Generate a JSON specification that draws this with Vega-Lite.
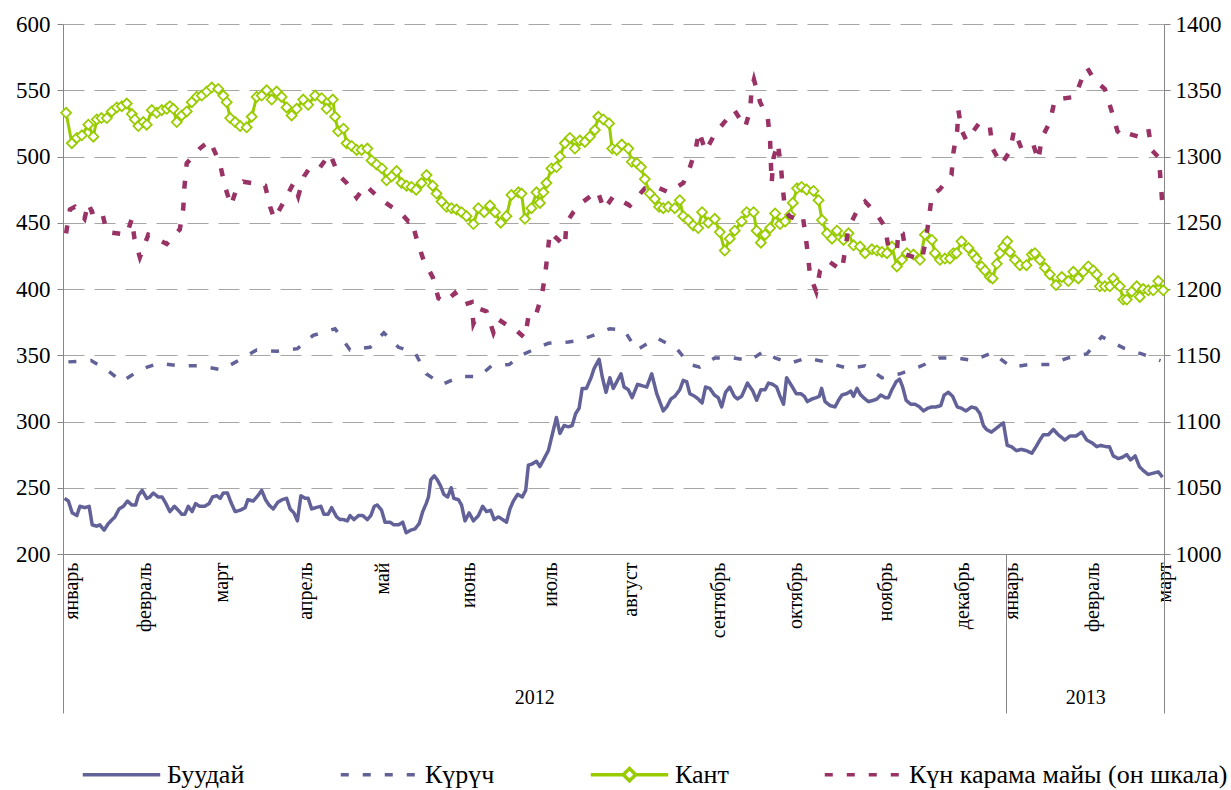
{
"$schema": "https://vega.github.io/schema/vega-lite/v6.json",
"width": 1101, "height": 530,
"autosize": {"type": "none"},
"padding": {"left": 63, "top": 24, "right": 67, "bottom": 236},
"background": "white",
"config": {"view": {"stroke": null}, "font": "Liberation Serif",
  "axis": {"labelFont": "Liberation Serif", "labelColor": "black", "labelFontSize": 20, "domainColor": "#868686", "tickColor": "#868686", "title": null},
  "legend": {"labelFont": "Liberation Serif", "labelFontSize": 26, "labelColor": "black", "labelLimit": 0}},
"datasets": {"d": [
{"s":"a","t":0.4,"v":242},{"s":"a","t":1.4,"v":240},{"s":"a","t":2.4,"v":231},{"s":"a","t":3.6,"v":229},{"s":"a","t":4.4,"v":236},{"s":"a","t":5.7,"v":235},{"s":"a","t":6.8,"v":236},{"s":"a","t":7.6,"v":222},{"s":"a","t":8.8,"v":221},{"s":"a","t":9.6,"v":222},{"s":"a","t":10.7,"v":218},{"s":"a","t":11.8,"v":223},{"s":"a","t":13.5,"v":228},{"s":"a","t":14.6,"v":234},{"s":"a","t":15.7,"v":236},{"s":"a","t":16.8,"v":240},{"s":"a","t":17.9,"v":237},{"s":"a","t":18.9,"v":237},{"s":"a","t":19.6,"v":244},{"s":"a","t":20.6,"v":248},{"s":"a","t":21.8,"v":242},{"s":"a","t":22.6,"v":243},{"s":"a","t":23.5,"v":246},{"s":"a","t":24.8,"v":243},{"s":"a","t":25.8,"v":243},{"s":"a","t":26.8,"v":238},{"s":"a","t":27.8,"v":232},{"s":"a","t":29,"v":236},{"s":"a","t":30,"v":233},{"s":"a","t":30.9,"v":230},{"s":"a","t":31.7,"v":230},{"s":"a","t":32.6,"v":236},{"s":"a","t":33.6,"v":232},{"s":"a","t":34.5,"v":238},{"s":"a","t":35.6,"v":236},{"s":"a","t":36.9,"v":236},{"s":"a","t":38,"v":238},{"s":"a","t":38.9,"v":243},{"s":"a","t":40,"v":244},{"s":"a","t":40.9,"v":242},{"s":"a","t":41.7,"v":246},{"s":"a","t":42.8,"v":246},{"s":"a","t":43.7,"v":239},{"s":"a","t":44.8,"v":232},{"s":"a","t":46.1,"v":233},{"s":"a","t":47.4,"v":235},{"s":"a","t":48.1,"v":241},{"s":"a","t":49.5,"v":240},{"s":"a","t":50.7,"v":244},{"s":"a","t":51.7,"v":248},{"s":"a","t":52.7,"v":241},{"s":"a","t":53.6,"v":237},{"s":"a","t":54.7,"v":234},{"s":"a","t":55.9,"v":239},{"s":"a","t":57,"v":241},{"s":"a","t":58.2,"v":242},{"s":"a","t":59.1,"v":234},{"s":"a","t":60.1,"v":231},{"s":"a","t":61,"v":225},{"s":"a","t":61.9,"v":244},{"s":"a","t":63,"v":242},{"s":"a","t":63.8,"v":242},{"s":"a","t":64.7,"v":234},{"s":"a","t":65.8,"v":235},{"s":"a","t":67.1,"v":236},{"s":"a","t":67.9,"v":230},{"s":"a","t":69,"v":230},{"s":"a","t":69.9,"v":235},{"s":"a","t":71.2,"v":228},{"s":"a","t":72.1,"v":226},{"s":"a","t":72.9,"v":226},{"s":"a","t":74,"v":225},{"s":"a","t":74.7,"v":229},{"s":"a","t":75.7,"v":226},{"s":"a","t":76.9,"v":229},{"s":"a","t":78,"v":229},{"s":"a","t":79.2,"v":226},{"s":"a","t":80.1,"v":229},{"s":"a","t":81,"v":236},{"s":"a","t":81.8,"v":237},{"s":"a","t":82.9,"v":233},{"s":"a","t":83.8,"v":224},{"s":"a","t":85.1,"v":224},{"s":"a","t":86.1,"v":222},{"s":"a","t":87.3,"v":222},{"s":"a","t":88.4,"v":224},{"s":"a","t":89.3,"v":216},{"s":"a","t":90.5,"v":218},{"s":"a","t":91.6,"v":219},{"s":"a","t":92.7,"v":223},{"s":"a","t":93.6,"v":232},{"s":"a","t":94.5,"v":238},{"s":"a","t":95.1,"v":243},{"s":"a","t":95.7,"v":256},{"s":"a","t":96.6,"v":259},{"s":"a","t":97.4,"v":256},{"s":"a","t":98.3,"v":251},{"s":"a","t":99.1,"v":245},{"s":"a","t":100.1,"v":243},{"s":"a","t":101,"v":250},{"s":"a","t":101.7,"v":242},{"s":"a","t":102.9,"v":241},{"s":"a","t":103.7,"v":237},{"s":"a","t":104.6,"v":225},{"s":"a","t":105.7,"v":231},{"s":"a","t":106.8,"v":225},{"s":"a","t":108.1,"v":229},{"s":"a","t":109.2,"v":236},{"s":"a","t":110.2,"v":232},{"s":"a","t":111.3,"v":233},{"s":"a","t":112.2,"v":226},{"s":"a","t":113.3,"v":228},{"s":"a","t":114.4,"v":226},{"s":"a","t":115.4,"v":224},{"s":"a","t":116.3,"v":234},{"s":"a","t":117.2,"v":240},{"s":"a","t":118.3,"v":245},{"s":"a","t":119.5,"v":243},{"s":"a","t":120.4,"v":248},{"s":"a","t":121.1,"v":267},{"s":"a","t":122.1,"v":268},{"s":"a","t":123.2,"v":270},{"s":"a","t":124.1,"v":266},{"s":"a","t":125.2,"v":272},{"s":"a","t":126.3,"v":278},{"s":"a","t":127.3,"v":290},{"s":"a","t":128.4,"v":303},{"s":"a","t":129.3,"v":291},{"s":"a","t":130.4,"v":297},{"s":"a","t":131.5,"v":296},{"s":"a","t":132.5,"v":297},{"s":"a","t":133.4,"v":306},{"s":"a","t":134.3,"v":310},{"s":"a","t":135.1,"v":325},{"s":"a","t":136.2,"v":325},{"s":"a","t":137.4,"v":333},{"s":"a","t":138.2,"v":340},{"s":"a","t":139.5,"v":347},{"s":"a","t":140.3,"v":334},{"s":"a","t":141.3,"v":322},{"s":"a","t":142.3,"v":333},{"s":"a","t":143.2,"v":325},{"s":"a","t":144.3,"v":331},{"s":"a","t":145.2,"v":336},{"s":"a","t":146,"v":326},{"s":"a","t":147.1,"v":324},{"s":"a","t":148.1,"v":318},{"s":"a","t":149.5,"v":328},{"s":"a","t":150.7,"v":327},{"s":"a","t":151.9,"v":326},{"s":"a","t":153.2,"v":336},{"s":"a","t":154.5,"v":321},{"s":"a","t":156.2,"v":308},{"s":"a","t":157.1,"v":311},{"s":"a","t":158.2,"v":317},{"s":"a","t":159.2,"v":319},{"s":"a","t":160.5,"v":324},{"s":"a","t":161.4,"v":331},{"s":"a","t":162.3,"v":330},{"s":"a","t":163.1,"v":321},{"s":"a","t":164.4,"v":319},{"s":"a","t":165.3,"v":317},{"s":"a","t":166.3,"v":314},{"s":"a","t":167.2,"v":326},{"s":"a","t":168.3,"v":325},{"s":"a","t":169.5,"v":320},{"s":"a","t":170.5,"v":318},{"s":"a","t":171.4,"v":311},{"s":"a","t":172.4,"v":322},{"s":"a","t":173.5,"v":326},{"s":"a","t":174.7,"v":319},{"s":"a","t":175.5,"v":317},{"s":"a","t":176.6,"v":319},{"s":"a","t":178.1,"v":329},{"s":"a","t":179.5,"v":323},{"s":"a","t":180.5,"v":316},{"s":"a","t":181.6,"v":324},{"s":"a","t":182.7,"v":324},{"s":"a","t":183.6,"v":329},{"s":"a","t":184.7,"v":328},{"s":"a","t":185.7,"v":326},{"s":"a","t":186.6,"v":319},{"s":"a","t":187.5,"v":313},{"s":"a","t":188.3,"v":333},{"s":"a","t":189.6,"v":327},{"s":"a","t":190.8,"v":321},{"s":"a","t":192,"v":321},{"s":"a","t":192.9,"v":319},{"s":"a","t":193.7,"v":315},{"s":"a","t":194.9,"v":317},{"s":"a","t":196,"v":318},{"s":"a","t":196.8,"v":319},{"s":"a","t":197.4,"v":325},{"s":"a","t":198.3,"v":315},{"s":"a","t":199.6,"v":312},{"s":"a","t":200.9,"v":311},{"s":"a","t":201.8,"v":316},{"s":"a","t":202.7,"v":320},{"s":"a","t":203.9,"v":321},{"s":"a","t":205,"v":323},{"s":"a","t":205.7,"v":319},{"s":"a","t":206.6,"v":325},{"s":"a","t":207.6,"v":320},{"s":"a","t":208.7,"v":317},{"s":"a","t":209.6,"v":315},{"s":"a","t":210.9,"v":316},{"s":"a","t":211.8,"v":317},{"s":"a","t":212.8,"v":320},{"s":"a","t":214,"v":318},{"s":"a","t":214.8,"v":318},{"s":"a","t":215.7,"v":324},{"s":"a","t":216.8,"v":330},{"s":"a","t":217.7,"v":332},{"s":"a","t":218.5,"v":326},{"s":"a","t":219.4,"v":316},{"s":"a","t":220.6,"v":313},{"s":"a","t":221.7,"v":313},{"s":"a","t":222.9,"v":311},{"s":"a","t":223.9,"v":308},{"s":"a","t":225,"v":310},{"s":"a","t":226.1,"v":311},{"s":"a","t":227.2,"v":311},{"s":"a","t":228.4,"v":312},{"s":"a","t":229.3,"v":320},{"s":"a","t":230.4,"v":322},{"s":"a","t":231.5,"v":319},{"s":"a","t":232.7,"v":311},{"s":"a","t":233.8,"v":310},{"s":"a","t":235,"v":308},{"s":"a","t":236.4,"v":311},{"s":"a","t":237.6,"v":310},{"s":"a","t":238.6,"v":306},{"s":"a","t":239.5,"v":297},{"s":"a","t":240.3,"v":294},{"s":"a","t":241.6,"v":292},{"s":"a","t":242.9,"v":295},{"s":"a","t":244.7,"v":299},{"s":"a","t":245.7,"v":282},{"s":"a","t":246.8,"v":281},{"s":"a","t":248.1,"v":278},{"s":"a","t":249.4,"v":279},{"s":"a","t":250.7,"v":278},{"s":"a","t":252.1,"v":276},{"s":"a","t":253.2,"v":281},{"s":"a","t":254.2,"v":286},{"s":"a","t":255.1,"v":290},{"s":"a","t":256.4,"v":290},{"s":"a","t":257.7,"v":294},{"s":"a","t":259,"v":290},{"s":"a","t":260.7,"v":286},{"s":"a","t":262,"v":289},{"s":"a","t":263.6,"v":289},{"s":"a","t":265.1,"v":292},{"s":"a","t":266.4,"v":286},{"s":"a","t":267.7,"v":284},{"s":"a","t":269,"v":281},{"s":"a","t":270,"v":282},{"s":"a","t":271.4,"v":281},{"s":"a","t":272.3,"v":281},{"s":"a","t":273.3,"v":274},{"s":"a","t":274.6,"v":272},{"s":"a","t":275.7,"v":273},{"s":"a","t":276.8,"v":275},{"s":"a","t":277.8,"v":271},{"s":"a","t":279,"v":274},{"s":"a","t":280.1,"v":266},{"s":"a","t":281.1,"v":263},{"s":"a","t":282.4,"v":260},{"s":"a","t":283.7,"v":261},{"s":"a","t":285,"v":262},{"s":"a","t":286.1,"v":258},
{"s":"b","t":1.4,"v":345},{"s":"b","t":7.3,"v":346},{"s":"b","t":11.4,"v":339},{"s":"b","t":15.3,"v":330},{"s":"b","t":20,"v":339},{"s":"b","t":24.8,"v":344},{"s":"b","t":30.2,"v":342},{"s":"b","t":35.9,"v":342},{"s":"b","t":41.3,"v":339},{"s":"b","t":45.6,"v":346},{"s":"b","t":50.4,"v":354},{"s":"b","t":55.6,"v":353},{"s":"b","t":61,"v":355},{"s":"b","t":65.1,"v":365},{"s":"b","t":70.8,"v":370},{"s":"b","t":74.7,"v":354},{"s":"b","t":79.9,"v":356},{"s":"b","t":83.5,"v":367},{"s":"b","t":87.3,"v":356},{"s":"b","t":91.6,"v":352},{"s":"b","t":94.5,"v":336},{"s":"b","t":98.7,"v":328},{"s":"b","t":103.3,"v":334},{"s":"b","t":108.3,"v":334},{"s":"b","t":111.5,"v":342},{"s":"b","t":116.1,"v":343},{"s":"b","t":119.3,"v":350},{"s":"b","t":123.7,"v":356},{"s":"b","t":126.3,"v":359},{"s":"b","t":131.5,"v":360},{"s":"b","t":134.1,"v":361},{"s":"b","t":138,"v":365},{"s":"b","t":142.3,"v":370},{"s":"b","t":146,"v":369},{"s":"b","t":149.3,"v":354},{"s":"b","t":154.5,"v":363},{"s":"b","t":159.7,"v":355},{"s":"b","t":163.1,"v":343},{"s":"b","t":165.7,"v":341},{"s":"b","t":169.6,"v":348},{"s":"b","t":174.2,"v":348},{"s":"b","t":178.8,"v":346},{"s":"b","t":182.3,"v":353},{"s":"b","t":185.3,"v":348},{"s":"b","t":189.2,"v":344},{"s":"b","t":193.6,"v":348},{"s":"b","t":198.3,"v":345},{"s":"b","t":204.4,"v":340},{"s":"b","t":208.7,"v":342},{"s":"b","t":213.1,"v":333},{"s":"b","t":217.8,"v":336},{"s":"b","t":222.6,"v":341},{"s":"b","t":228.1,"v":348},{"s":"b","t":232.7,"v":348},{"s":"b","t":236.9,"v":346},{"s":"b","t":241.9,"v":352},{"s":"b","t":246.7,"v":341},{"s":"b","t":251.4,"v":343},{"s":"b","t":256.7,"v":343},{"s":"b","t":261.6,"v":348},{"s":"b","t":266.4,"v":351},{"s":"b","t":270.3,"v":364},{"s":"b","t":272.9,"v":360},{"s":"b","t":276.3,"v":355},{"s":"b","t":280.7,"v":351},{"s":"b","t":285.6,"v":346},
{"s":"c","t":0.8,"v":533},{"s":"c","t":2.3,"v":510},{"s":"c","t":3.6,"v":514},{"s":"c","t":4.9,"v":516},{"s":"c","t":6.6,"v":524},{"s":"c","t":7.9,"v":515},{"s":"c","t":8.8,"v":528},{"s":"c","t":10,"v":529},{"s":"c","t":11.4,"v":529},{"s":"c","t":12.7,"v":534},{"s":"c","t":14,"v":537},{"s":"c","t":15.3,"v":538},{"s":"c","t":16.6,"v":540},{"s":"c","t":17.9,"v":532},{"s":"c","t":18.7,"v":528},{"s":"c","t":19.6,"v":523},{"s":"c","t":20.9,"v":526},{"s":"c","t":21.8,"v":524},{"s":"c","t":23.1,"v":535},{"s":"c","t":24.4,"v":533},{"s":"c","t":25.7,"v":535},{"s":"c","t":27,"v":536},{"s":"c","t":27.8,"v":538},{"s":"c","t":28.7,"v":536},{"s":"c","t":29.6,"v":526},{"s":"c","t":30.9,"v":531},{"s":"c","t":32.2,"v":534},{"s":"c","t":33.5,"v":541},{"s":"c","t":34.8,"v":545},{"s":"c","t":36.1,"v":546},{"s":"c","t":37.4,"v":549},{"s":"c","t":38.7,"v":552},{"s":"c","t":40.4,"v":551},{"s":"c","t":41.7,"v":546},{"s":"c","t":42.6,"v":541},{"s":"c","t":43.5,"v":529},{"s":"c","t":44.8,"v":526},{"s":"c","t":46.1,"v":523},{"s":"c","t":47.8,"v":522},{"s":"c","t":49.1,"v":530},{"s":"c","t":50.4,"v":545},{"s":"c","t":51.7,"v":546},{"s":"c","t":53,"v":550},{"s":"c","t":54.3,"v":543},{"s":"c","t":55.6,"v":549},{"s":"c","t":56.9,"v":545},{"s":"c","t":58.2,"v":537},{"s":"c","t":59.5,"v":531},{"s":"c","t":60.8,"v":536},{"s":"c","t":62.5,"v":543},{"s":"c","t":63.8,"v":539},{"s":"c","t":65.6,"v":546},{"s":"c","t":67.3,"v":544},{"s":"c","t":68.6,"v":536},{"s":"c","t":70.2,"v":543},{"s":"c","t":70.8,"v":530},{"s":"c","t":71.6,"v":519},{"s":"c","t":73,"v":521},{"s":"c","t":73.8,"v":510},{"s":"c","t":75.1,"v":508},{"s":"c","t":76.4,"v":505},{"s":"c","t":77.7,"v":505},{"s":"c","t":79.2,"v":506},{"s":"c","t":80.3,"v":497},{"s":"c","t":81.6,"v":494},{"s":"c","t":83,"v":491},{"s":"c","t":84.2,"v":482},{"s":"c","t":85.5,"v":485},{"s":"c","t":86.8,"v":489},{"s":"c","t":88.1,"v":480},{"s":"c","t":89.4,"v":478},{"s":"c","t":90.7,"v":477},{"s":"c","t":91.9,"v":475},{"s":"c","t":93.3,"v":480},{"s":"c","t":94.6,"v":486},{"s":"c","t":96.2,"v":478},{"s":"c","t":97.2,"v":472},{"s":"c","t":98.5,"v":466},{"s":"c","t":99.8,"v":462},{"s":"c","t":101.1,"v":461},{"s":"c","t":102.4,"v":460},{"s":"c","t":103.7,"v":458},{"s":"c","t":105,"v":455},{"s":"c","t":106.8,"v":449},{"s":"c","t":108.1,"v":461},{"s":"c","t":109.6,"v":458},{"s":"c","t":111.1,"v":463},{"s":"c","t":112.4,"v":458},{"s":"c","t":113.9,"v":450},{"s":"c","t":115.4,"v":455},{"s":"c","t":116.7,"v":471},{"s":"c","t":118.5,"v":473},{"s":"c","t":119.3,"v":472},{"s":"c","t":120.2,"v":453},{"s":"c","t":121.9,"v":461},{"s":"c","t":123.2,"v":473},{"s":"c","t":124.1,"v":465},{"s":"c","t":125,"v":473},{"s":"c","t":125.8,"v":480},{"s":"c","t":127.1,"v":491},{"s":"c","t":128.4,"v":492},{"s":"c","t":129.3,"v":500},{"s":"c","t":130.6,"v":510},{"s":"c","t":131.9,"v":514},{"s":"c","t":133.2,"v":506},{"s":"c","t":134.5,"v":512},{"s":"c","t":135.8,"v":511},{"s":"c","t":137.1,"v":515},{"s":"c","t":138.4,"v":520},{"s":"c","t":139.3,"v":530},{"s":"c","t":140.6,"v":528},{"s":"c","t":142.1,"v":525},{"s":"c","t":142.9,"v":506},{"s":"c","t":144.1,"v":505},{"s":"c","t":145.4,"v":509},{"s":"c","t":147.1,"v":506},{"s":"c","t":148,"v":496},{"s":"c","t":149.3,"v":495},{"s":"c","t":150.4,"v":492},{"s":"c","t":151.4,"v":483},{"s":"c","t":152.7,"v":472},{"s":"c","t":154,"v":468},{"s":"c","t":155.1,"v":462},{"s":"c","t":156.2,"v":461},{"s":"c","t":157.5,"v":462},{"s":"c","t":159.2,"v":461},{"s":"c","t":160.5,"v":467},{"s":"c","t":161.4,"v":455},{"s":"c","t":162.7,"v":452},{"s":"c","t":164,"v":448},{"s":"c","t":165.3,"v":446},{"s":"c","t":166.3,"v":458},{"s":"c","t":167.9,"v":450},{"s":"c","t":169.6,"v":453},{"s":"c","t":170.9,"v":443},{"s":"c","t":172.2,"v":429},{"s":"c","t":173.5,"v":438},{"s":"c","t":174.8,"v":444},{"s":"c","t":176.6,"v":451},{"s":"c","t":177.9,"v":458},{"s":"c","t":179.7,"v":458},{"s":"c","t":180.5,"v":444},{"s":"c","t":181.6,"v":435},{"s":"c","t":182.7,"v":441},{"s":"c","t":184,"v":446},{"s":"c","t":185.3,"v":457},{"s":"c","t":186.6,"v":449},{"s":"c","t":187.9,"v":451},{"s":"c","t":189.2,"v":456},{"s":"c","t":189.9,"v":465},{"s":"c","t":191,"v":476},{"s":"c","t":192.2,"v":477},{"s":"c","t":193.5,"v":475},{"s":"c","t":195.3,"v":474},{"s":"c","t":196.6,"v":467},{"s":"c","t":197.5,"v":452},{"s":"c","t":198.8,"v":442},{"s":"c","t":200.1,"v":438},{"s":"c","t":201.4,"v":444},{"s":"c","t":203.1,"v":437},{"s":"c","t":204.4,"v":442},{"s":"c","t":205.7,"v":433},{"s":"c","t":207.4,"v":432},{"s":"c","t":208.7,"v":427},{"s":"c","t":210.5,"v":430},{"s":"c","t":211.8,"v":429},{"s":"c","t":213.1,"v":428},{"s":"c","t":214.4,"v":427},{"s":"c","t":215.7,"v":432},{"s":"c","t":217,"v":417},{"s":"c","t":218.3,"v":422},{"s":"c","t":219.6,"v":427},{"s":"c","t":221.3,"v":426},{"s":"c","t":223,"v":422},{"s":"c","t":224.3,"v":441},{"s":"c","t":226.1,"v":437},{"s":"c","t":226.9,"v":427},{"s":"c","t":228.2,"v":422},{"s":"c","t":229.5,"v":423},{"s":"c","t":230.8,"v":423},{"s":"c","t":231.7,"v":427},{"s":"c","t":232.5,"v":427},{"s":"c","t":233.8,"v":436},{"s":"c","t":235.6,"v":431},{"s":"c","t":236.9,"v":426},{"s":"c","t":237.7,"v":423},{"s":"c","t":239,"v":417},{"s":"c","t":239.9,"v":414},{"s":"c","t":241.2,"v":409},{"s":"c","t":241.9,"v":408},{"s":"c","t":243,"v":419},{"s":"c","t":243.8,"v":427},{"s":"c","t":244.7,"v":432},{"s":"c","t":245.7,"v":436},{"s":"c","t":246.4,"v":428},{"s":"c","t":247.7,"v":422},{"s":"c","t":249,"v":418},{"s":"c","t":250.7,"v":418},{"s":"c","t":252.1,"v":426},{"s":"c","t":252.9,"v":427},{"s":"c","t":254.2,"v":422},{"s":"c","t":255.5,"v":416},{"s":"c","t":256.8,"v":411},{"s":"c","t":258.4,"v":403},{"s":"c","t":259.9,"v":409},{"s":"c","t":261.6,"v":406},{"s":"c","t":262.9,"v":413},{"s":"c","t":264.2,"v":408},{"s":"c","t":265.5,"v":413},{"s":"c","t":266.8,"v":417},{"s":"c","t":268.1,"v":414},{"s":"c","t":269,"v":411},{"s":"c","t":269.8,"v":402},{"s":"c","t":271.1,"v":402},{"s":"c","t":272.4,"v":402},{"s":"c","t":273.3,"v":408},{"s":"c","t":274.2,"v":404},{"s":"c","t":275,"v":402},{"s":"c","t":275.9,"v":392},{"s":"c","t":276.8,"v":392},{"s":"c","t":278.1,"v":398},{"s":"c","t":279.4,"v":402},{"s":"c","t":280.2,"v":394},{"s":"c","t":281.1,"v":400},{"s":"c","t":282.4,"v":399},{"s":"c","t":283.7,"v":399},{"s":"c","t":285,"v":406},{"s":"c","t":286.3,"v":399},
{"s":"d","t":0.8,"v":1242},{"s":"d","t":1.8,"v":1260},{"s":"d","t":3.1,"v":1262},{"s":"d","t":5.6,"v":1253},{"s":"d","t":6.6,"v":1265},{"s":"d","t":7.5,"v":1258},{"s":"d","t":10,"v":1260},{"s":"d","t":11.4,"v":1243},{"s":"d","t":16.6,"v":1241},{"s":"d","t":17.9,"v":1253},{"s":"d","t":18.6,"v":1238},{"s":"d","t":20,"v":1224},{"s":"d","t":22.2,"v":1241},{"s":"d","t":23.1,"v":1240},{"s":"d","t":27,"v":1234},{"s":"d","t":30.4,"v":1245},{"s":"d","t":31.3,"v":1261},{"s":"d","t":31.6,"v":1277},{"s":"d","t":32.2,"v":1295},{"s":"d","t":35.6,"v":1306},{"s":"d","t":38.2,"v":1312},{"s":"d","t":40.8,"v":1295},{"s":"d","t":42.2,"v":1277},{"s":"d","t":43.7,"v":1263},{"s":"d","t":45.2,"v":1276},{"s":"d","t":46.9,"v":1281},{"s":"d","t":49.1,"v":1280},{"s":"d","t":50.7,"v":1280},{"s":"d","t":52.6,"v":1278},{"s":"d","t":53.9,"v":1262},{"s":"d","t":55,"v":1253},{"s":"d","t":57.3,"v":1265},{"s":"d","t":60,"v":1280},{"s":"d","t":61.2,"v":1270},{"s":"d","t":62.7,"v":1285},{"s":"d","t":64.1,"v":1291},{"s":"d","t":66.4,"v":1290},{"s":"d","t":69.5,"v":1302},{"s":"d","t":71.7,"v":1286},{"s":"d","t":73.8,"v":1280},{"s":"d","t":76.4,"v":1269},{"s":"d","t":78.8,"v":1278},{"s":"d","t":82.5,"v":1268},{"s":"d","t":85.5,"v":1262},{"s":"d","t":87.7,"v":1258},{"s":"d","t":89.9,"v":1251},{"s":"d","t":90.7,"v":1252},{"s":"d","t":92.2,"v":1236},{"s":"d","t":93.8,"v":1222},{"s":"d","t":96.2,"v":1209},{"s":"d","t":97.7,"v":1193},{"s":"d","t":99.4,"v":1190},{"s":"d","t":102,"v":1197},{"s":"d","t":104.2,"v":1188},{"s":"d","t":106.3,"v":1190},{"s":"d","t":106.8,"v":1174},{"s":"d","t":108.5,"v":1185},{"s":"d","t":110.2,"v":1183},{"s":"d","t":112,"v":1167},{"s":"d","t":113.3,"v":1177},{"s":"d","t":115.4,"v":1173},{"s":"d","t":116.7,"v":1172},{"s":"d","t":120.2,"v":1163},{"s":"d","t":121.1,"v":1179},{"s":"d","t":122.8,"v":1178},{"s":"d","t":124.5,"v":1194},{"s":"d","t":125.4,"v":1209},{"s":"d","t":126.1,"v":1227},{"s":"d","t":126.7,"v":1243},{"s":"d","t":128.9,"v":1237},{"s":"d","t":130.6,"v":1232},{"s":"d","t":131,"v":1250},{"s":"d","t":132.8,"v":1258},{"s":"d","t":135.4,"v":1266},{"s":"d","t":139.1,"v":1274},{"s":"d","t":140.8,"v":1260},{"s":"d","t":143.2,"v":1270},{"s":"d","t":147.5,"v":1263},{"s":"d","t":151.4,"v":1276},{"s":"d","t":154.5,"v":1277},{"s":"d","t":157.5,"v":1273},{"s":"d","t":161.4,"v":1280},{"s":"d","t":162.7,"v":1288},{"s":"d","t":164.6,"v":1305},{"s":"d","t":165.5,"v":1319},{"s":"d","t":167.2,"v":1304},{"s":"d","t":169.6,"v":1317},{"s":"d","t":172.7,"v":1328},{"s":"d","t":174.7,"v":1335},{"s":"d","t":177.5,"v":1322},{"s":"d","t":178.8,"v":1335},{"s":"d","t":179.2,"v":1351},{"s":"d","t":179.8,"v":1358},{"s":"d","t":181.4,"v":1341},{"s":"d","t":183.4,"v":1329},{"s":"d","t":184,"v":1312},{"s":"d","t":184.4,"v":1280},{"s":"d","t":184.9,"v":1299},{"s":"d","t":186,"v":1310},{"s":"d","t":186.8,"v":1293},{"s":"d","t":187.3,"v":1276},{"s":"d","t":187.9,"v":1260},{"s":"d","t":189,"v":1255},{"s":"d","t":191.4,"v":1252},{"s":"d","t":192.5,"v":1255},{"s":"d","t":193.1,"v":1243},{"s":"d","t":193.8,"v":1227},{"s":"d","t":194.4,"v":1210},{"s":"d","t":196,"v":1198},{"s":"d","t":197,"v":1214},{"s":"d","t":199.2,"v":1221},{"s":"d","t":202.7,"v":1214},{"s":"d","t":203.5,"v":1229},{"s":"d","t":204.4,"v":1246},{"s":"d","t":206.8,"v":1260},{"s":"d","t":208.7,"v":1266},{"s":"d","t":211.6,"v":1257},{"s":"d","t":213.9,"v":1247},{"s":"d","t":214.8,"v":1231},{"s":"d","t":217,"v":1229},{"s":"d","t":217.4,"v":1244},{"s":"d","t":218.5,"v":1242},{"s":"d","t":219.4,"v":1226},{"s":"d","t":223.5,"v":1222},{"s":"d","t":224.6,"v":1238},{"s":"d","t":225.4,"v":1255},{"s":"d","t":226.1,"v":1271},{"s":"d","t":228.1,"v":1275},{"s":"d","t":231.2,"v":1286},{"s":"d","t":231.7,"v":1303},{"s":"d","t":232.7,"v":1320},{"s":"d","t":233,"v":1335},{"s":"d","t":233.8,"v":1320},{"s":"d","t":235.1,"v":1312},{"s":"d","t":238.6,"v":1326},{"s":"d","t":241.2,"v":1322},{"s":"d","t":241.9,"v":1306},{"s":"d","t":244.2,"v":1294},{"s":"d","t":246.4,"v":1304},{"s":"d","t":247.5,"v":1320},{"s":"d","t":249.4,"v":1306},{"s":"d","t":252.5,"v":1309},{"s":"d","t":253.8,"v":1297},{"s":"d","t":254.7,"v":1314},{"s":"d","t":256.8,"v":1326},{"s":"d","t":258.1,"v":1343},{"s":"d","t":263.3,"v":1345},{"s":"d","t":265.3,"v":1360},{"s":"d","t":266.5,"v":1367},{"s":"d","t":268.3,"v":1358},{"s":"d","t":271.1,"v":1351},{"s":"d","t":272.9,"v":1334},{"s":"d","t":274.4,"v":1319},{"s":"d","t":276.3,"v":1314},{"s":"d","t":277.6,"v":1317},{"s":"d","t":279.8,"v":1315},{"s":"d","t":282.4,"v":1321},{"s":"d","t":283.3,"v":1305},{"s":"d","t":285.2,"v":1299},{"s":"d","t":285.6,"v":1282},{"s":"d","t":286,"v":1267}
]},
"data": {"name": "d"},
"layer": [
 {"transform": [{"filter": "datum.s === 'a'"}],
  "mark": {"type": "line", "strokeWidth": 3.5, "strokeJoin": "round"},
  "encoding": {
   "x": {"field": "t", "type": "quantitative", "scale": {"domain": [0, 286.5], "nice": false, "zero": false},
     "axis": {"orient": "bottom", "values": [2.3,21.3,41.3,63.1,83.1,105.5,126.8,147.8,170.6,190.6,214,234,246.8,267.8,286.5],
       "labelExpr": "datum.value<10?'январь':datum.value<30?'февраль':datum.value<50?'март':datum.value<70?'апрель':datum.value<90?'май':datum.value<115?'июнь':datum.value<135?'июль':datum.value<160?'август':datum.value<180?'сентябрь':datum.value<200?'октябрь':datum.value<220?'ноябрь':datum.value<240?'декабрь':datum.value<255?'январь':datum.value<275?'февраль':'март'",
       "labelAngle": 270, "labelPadding": 8, "ticks": false, "domain": true, "grid": false, "labelOverlap": false, "labelBound": false, "labelFlush": false, "labelFontSize": 20}},
   "y": {"field": "v", "type": "quantitative", "scale": {"domain": [200, 600], "nice": false, "zero": false},
     "axis": {"orient": "left", "values": [200,250,300,350,400,450,500,550,600], "format": "d", "grid": true, "gridDash": [21, 10], "gridColor": "#a6a6a6", "gridWidth": 1.2, "tickSize": 6, "labelPadding": 7, "labelFontSize": 23}},
   "color": {"field": "s", "type": "nominal", "scale": {"domain": ["a","b","c","d"], "range": ["#626299","#626299","#99CC00","#993366"]},
     "legend": {"orient": "none", "legendX": 18, "legendY": 710, "direction": "horizontal", "title": null, "symbolType": "stroke", "symbolSize": 6000, "symbolStrokeWidth": 3.5, "labelFont": "Liberation Serif", "labelFontSize": 26, "labelLimit": 0, "labelColor": "black", "columnPadding": 88, "labelOffset": 5,
       "labelExpr": "datum.value==='a'?'Буудай':datum.value==='b'?'Күрүч':datum.value==='c'?'Кант':'Күн карама майы (он шкала)'",
       "encode": {"symbols": {"update": {"shape": {"signal": "datum.value==='c' ? 'M-1,0L-0.16,0M0,-0.16L0.16,0L0,0.16L-0.16,0ZM0.16,0L1,0' : 'stroke'"}}}}}},
   "strokeDash": {"field": "s", "type": "nominal", "scale": {"domain": ["a","b","c","d"], "range": [[1,0],[8,14],[1,0],[8,14]]},
     "legend": {"orient": "none", "legendX": 18, "legendY": 710, "direction": "horizontal", "title": null, "symbolType": "stroke", "symbolSize": 6000, "symbolStrokeWidth": 3.5, "labelFont": "Liberation Serif", "labelFontSize": 26, "labelLimit": 0, "labelColor": "black", "columnPadding": 88, "labelOffset": 5,
       "labelExpr": "datum.value==='a'?'Буудай':datum.value==='b'?'Күрүч':datum.value==='c'?'Кант':'Күн карама майы (он шкала)'"}}
  }},
 {"transform": [{"filter": "datum.s === 'b'"}],
  "mark": {"type": "line", "strokeWidth": 3.5},
  "encoding": {
   "x": {"field": "t", "type": "quantitative", "scale": {"domain": [0, 286.5], "nice": false, "zero": false},
     "axis": {"orient": "bottom", "values": [0, 245.4, 286.5], "labels": false, "domain": false, "ticks": true, "tickSize": 159, "tickWidth": 1, "grid": false}},
   "y": {"field": "v", "type": "quantitative", "scale": {"domain": [200, 600], "nice": false, "zero": false}, "axis": null},
   "color": {"field": "s", "type": "nominal"},
   "strokeDash": {"field": "s", "type": "nominal"}
  }},
 {"transform": [{"filter": "datum.s === 'c'"}],
  "mark": {"type": "line", "strokeWidth": 3},
  "encoding": {
   "x": {"field": "t", "type": "quantitative", "scale": {"domain": [0, 286.5], "nice": false, "zero": false},
     "axis": {"orient": "bottom", "values": [122.6, 266], "labelExpr": "datum.value<200?'2012':'2013'", "labelAngle": 0, "labelBaseline": "top", "labelPadding": 133, "ticks": false, "domain": false, "grid": false, "labelFontSize": 20, "labelFlush": false}},
   "y": {"field": "v", "type": "quantitative", "scale": {"domain": [200, 600], "nice": false, "zero": false}, "axis": null},
   "color": {"field": "s", "type": "nominal"},
   "strokeDash": {"field": "s", "type": "nominal"}
  }},
 {"transform": [{"filter": "datum.s === 'c'"}],
  "mark": {"type": "point", "shape": "diamond", "filled": true, "fill": "white", "stroke": "#99CC00", "strokeWidth": 1.8, "size": 100, "opacity": 1},
  "encoding": {
   "x": {"field": "t", "type": "quantitative", "scale": {"domain": [0, 286.5], "nice": false, "zero": false}, "axis": null},
   "y": {"field": "v", "type": "quantitative", "scale": {"domain": [200, 600], "nice": false, "zero": false}, "axis": null}
  }},
 {"transform": [{"filter": "datum.s === 'd'"}],
  "mark": {"type": "line", "strokeWidth": 4.5},
  "encoding": {
   "x": {"field": "t", "type": "quantitative", "scale": {"domain": [0, 286.5], "nice": false, "zero": false}, "axis": null},
   "y": {"field": "v", "type": "quantitative", "scale": {"domain": [1000, 1400], "nice": false, "zero": false},
     "axis": {"orient": "right", "values": [1000,1050,1100,1150,1200,1250,1300,1350,1400], "format": "d", "grid": false, "tickSize": 6, "labelPadding": 5, "labelFontSize": 23}},
   "color": {"field": "s", "type": "nominal"},
   "strokeDash": {"field": "s", "type": "nominal"}
  }}
],
"resolve": {"scale": {"y": "independent"}, "axis": {"x": "independent", "y": "independent"}}
}
